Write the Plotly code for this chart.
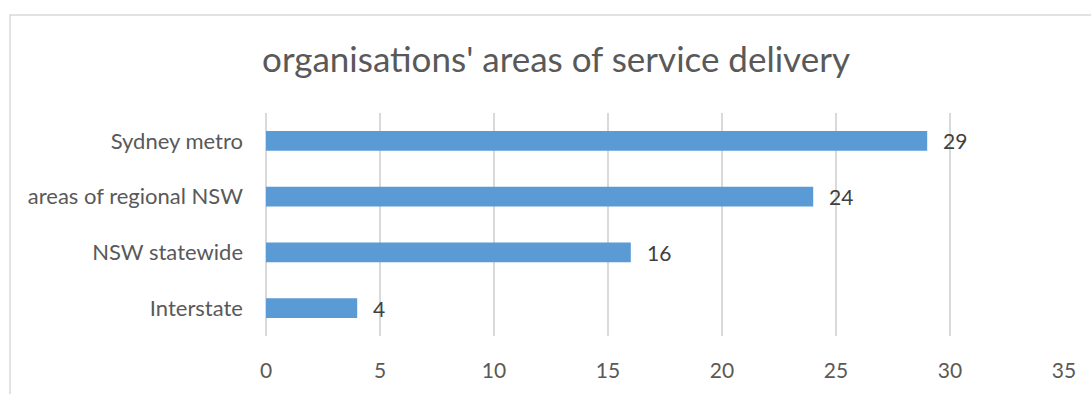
import plotly.graph_objects as go

categories = ["Sydney metro", "areas of regional NSW", "NSW statewide", "Interstate"]
values = [29, 24, 16, 4]
x_ticks = [0, 5, 10, 15, 20, 25, 30, 35]
title_text = "organisations' areas of service delivery"

FONT = "Lato"
W, H = 1091, 394
L, R, T, B = 266, 27, 113, 56
pw, ph = W - L - R, H - T - B

fig = go.Figure()
fig.add_trace(go.Bar(
    x=values, y=categories, orientation="h",
    marker=dict(color="#5b9bd5", line=dict(width=0)),
    hoverinfo="skip",
))

for c, v in zip(categories, values):
    fig.add_annotation(x=v, y=c, text=str(v), xref="x", yref="y",
                       showarrow=False, xanchor="left", xshift=14,
                       font=dict(family=FONT, size=21, color="#404040"))

# outer chart frame
fig.add_shape(type="rect", xref="paper", yref="paper",
              x0=(10 - L) / pw, x1=(W + 5 - L) / pw,
              y0=(H - B - (H + 5)) / ph, y1=(H - B - 14) / ph,
              line=dict(color="#d9d9d9", width=1.5), layer="below")

fig.update_layout(
    width=W, height=H,
    margin=dict(l=L, r=R, t=T, b=B),
    paper_bgcolor="white", plot_bgcolor="white",
    bargap=0.644,
    showlegend=False,
    title=dict(text=title_text, x=556 / W, xref="container", xanchor="center",
               y=1 - 60 / H, yanchor="middle",
               font=dict(family=FONT, size=35, color="#595959")),
    xaxis=dict(range=[0, 35], tickvals=x_ticks, ticktext=[str(t) for t in x_ticks],
               showgrid=True, gridcolor="#d9d9d9", gridwidth=1.5,
               zeroline=True, zerolinecolor="#d9d9d9", zerolinewidth=1.5,
               showline=False, ticks="", ticklabelstandoff=20,
               tickfont=dict(family=FONT, size=21, color="#595959"),
               fixedrange=True),
    yaxis=dict(autorange="reversed", showgrid=False, zeroline=False, showline=False,
               ticks="", ticklabelstandoff=22,
               tickfont=dict(family=FONT, size=22, color="#595959"),
               fixedrange=True),
)

fig.write_html("out.html", config={"displayModeBar": False})
